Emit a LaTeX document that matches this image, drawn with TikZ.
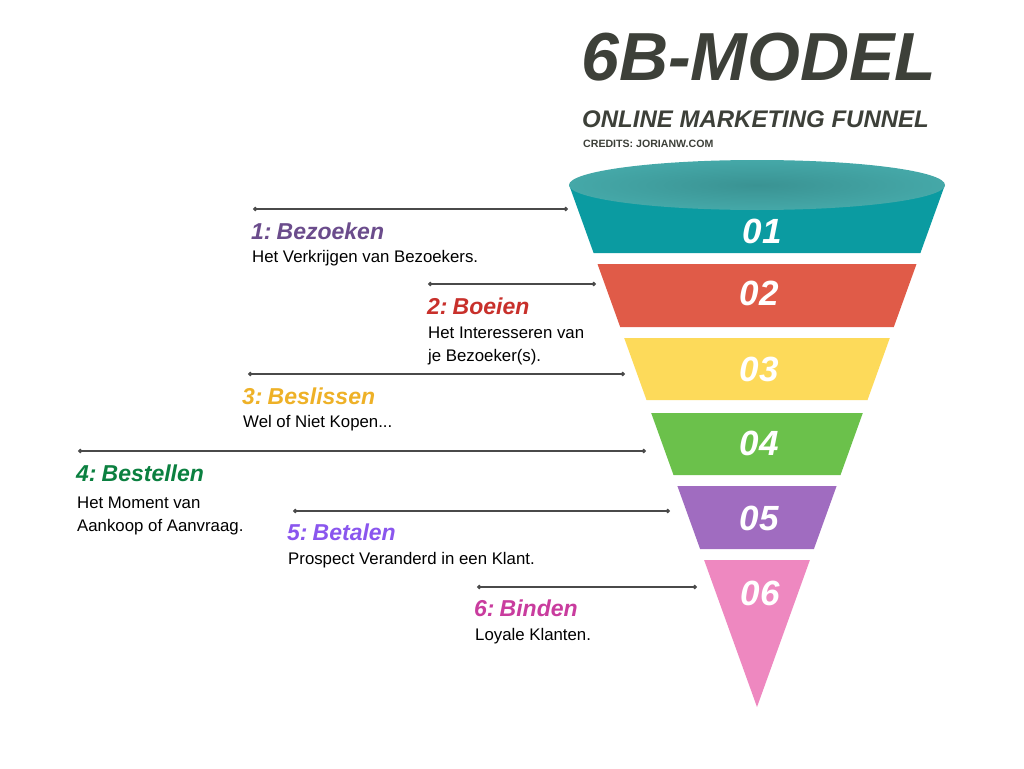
\documentclass[tikz,border=0pt]{standalone}
\usepackage{fontspec}
\setmainfont{Liberation Sans}
\usetikzlibrary{arrows.meta}
\definecolor{titlegray}{HTML}{3D4039}
\definecolor{cTeal}{HTML}{0B9BA1}
\definecolor{cTealTop}{HTML}{45A8A8}
\definecolor{cTealTopC}{HTML}{3A9393}
\definecolor{cRed}{HTML}{E05B48}
\definecolor{cYellow}{HTML}{FDDA5A}
\definecolor{cGreen}{HTML}{6BC14B}
\definecolor{cPurple}{HTML}{A06CC0}
\definecolor{cPink}{HTML}{EE88C0}
\definecolor{lOne}{HTML}{6B4C8C}
\definecolor{lTwo}{HTML}{C8302B}
\definecolor{lThree}{HTML}{EEB127}
\definecolor{lFour}{HTML}{0B8040}
\definecolor{lFive}{HTML}{8A56EE}
\definecolor{lSix}{HTML}{C93C9E}
\definecolor{lineGray}{HTML}{4A4A4A}
\newcommand{\colsp}{\hspace{0.22em}}
\tikzset{
  num/.style={font=\fontsize{35}{35}\selectfont\bfseries\itshape, text=white, inner sep=0pt},
  lbl/.style={font=\fontsize{23}{23}\selectfont\bfseries\itshape, anchor=base west, inner sep=0pt},
  desc/.style={font=\fontsize{16.8}{23}\selectfont, anchor=base west, inner sep=0pt, align=left, text=black},
  conn/.style={draw=lineGray, line width=1.1pt, {Circle[length=4.5pt]}-{Circle[length=4.5pt]}},
}
\begin{document}
\begin{tikzpicture}[x=1pt,y=-1pt]
\useasboundingbox[fill=white] (0,0) rectangle (1024,768);

% title
\node[font=\fontsize{68}{68}\selectfont\bfseries\itshape, text=titlegray, anchor=west, inner sep=0pt] (title) at (581,57) {6B-MODEL};
\node[font=\fontsize{24}{24}\selectfont\bfseries\itshape, text=titlegray, anchor=west, inner sep=0pt] (subtitle) at (582,119) {ONLINE MARKETING FUNNEL};
\node[font=\fontsize{10.6}{10.6}\selectfont\bfseries, text=titlegray, anchor=west, inner sep=0pt] (credits) at (583,144) {CREDITS: JORIANW.COM};

% funnel bands
\fill[cTeal] (569.1,185) -- (593.6,253) -- (920.4,253) -- (944.9,185) -- cycle;
\shade[inner color=cTealTopC, outer color=cTealTop] (757,185) ellipse [x radius=188, y radius=25];
\fill[cRed] (597.5,264) -- (620.2,327) -- (893.8,327) -- (916.5,264) -- cycle;
\fill[cYellow] (624.2,338) -- (646.5,400) -- (867.5,400) -- (889.8,338) -- cycle;
\fill[cGreen] (651.2,413) -- (673.5,475) -- (840.5,475) -- (862.8,413) -- cycle;
\fill[cPurple] (677.4,486) -- (700.1,549) -- (813.9,549) -- (836.6,486) -- cycle;
\fill[cPink] (704.1,560) -- (757,707) -- (809.9,560) -- cycle;

% numbers
\node[num] (n1) at (762,231) {01};
\node[num] (n2) at (759,293) {02};
\node[num] (n3) at (759,369) {03};
\node[num] (n4) at (759,443) {04};
\node[num] (n5) at (759,518) {05};
\node[num] (n6) at (760,593) {06};

% connector coordinates
\coordinate (a1) at (253,209); \coordinate (b1) at (568,209);
\coordinate (a2) at (428,284); \coordinate (b2) at (596,284);
\coordinate (a3) at (248,374); \coordinate (b3) at (625,374);
\coordinate (a4) at (78,451);  \coordinate (b4) at (646,451);
\coordinate (a5) at (293,511); \coordinate (b5) at (670,511);
\coordinate (a6) at (477,587); \coordinate (b6) at (697,587);
\foreach \i in {1,...,6} {\draw[conn] (a\i) -- (b\i);}

% labels
\node[lbl, text=lOne] (t1) at (251,239) {1:\colsp Bezoeken};
\node[desc] (d1) at (252,262) {Het Verkrijgen van Bezoekers.};
\node[lbl, text=lTwo] (t2) at (427,314) {2:\colsp Boeien};
\node[desc] (d2) at (428,361) {Het Interesseren van\\je Bezoeker(s).};
\node[lbl, text=lThree] (t3) at (242,404) {3:\colsp Beslissen};
\node[desc] (d3) at (243,427) {Wel of Niet Kopen...};
\node[lbl, text=lFour] (t4) at (76,481) {4:\colsp Bestellen};
\node[desc] (d4) at (77,531) {Het Moment van\\Aankoop of Aanvraag.};
\node[lbl, text=lFive] (t5) at (287,540) {5:\colsp Betalen};
\node[desc] (d5) at (288,564) {Prospect Veranderd in een Klant.};
\node[lbl, text=lSix] (t6) at (474,616) {6:\colsp Binden};
\node[desc] (d6) at (475,640) {Loyale Klanten.};
\end{tikzpicture}
\end{document}
